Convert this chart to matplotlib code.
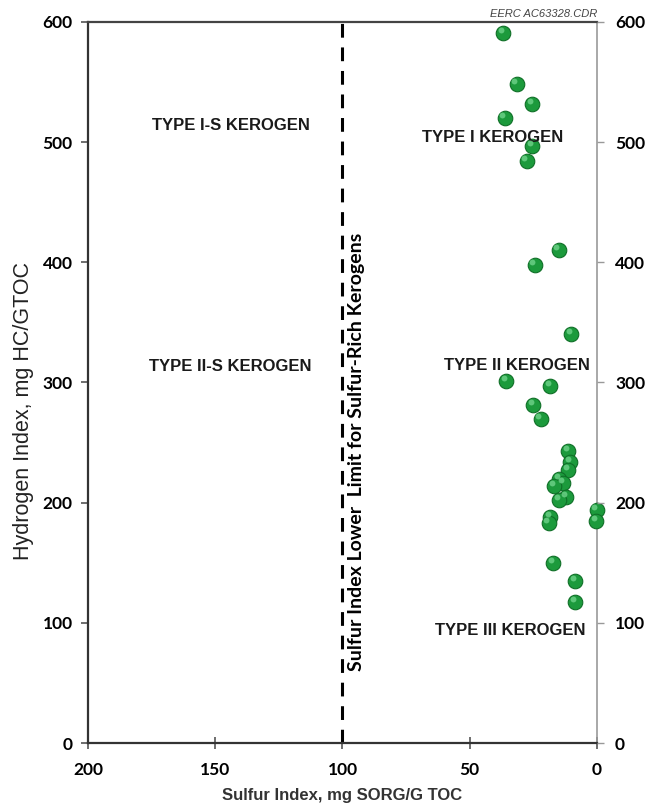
import matplotlib

matplotlib.use("Agg")
import matplotlib.pyplot as plt

# sulfur index (mg SORG/g TOC) and hydrogen index (mg HC/g TOC)
sulfur_index = [36.9, 31.6, 25.4, 36.3, 25.4, 27.6,
                15.1, 24.5, 10.2, 35.8, 18.3, 25.0, 22.1,
                11.3, 10.6, 11.3, 14.8, 13.2, 16.9, 12.2, 14.8,
                0.1, 0.4, 18.5, 19.0, 17.3, 8.6, 8.6]
hydrogen_index = [591, 548, 532, 520, 497, 484,
                  410, 398, 340, 301, 297, 281, 270,
                  243, 234, 227, 220, 216, 214, 205, 202,
                  194, 185, 188, 183, 150, 135, 117]

region_labels = ["TYPE I-S KEROGEN", "TYPE I KEROGEN", "TYPE II-S KEROGEN",
                 "TYPE II KEROGEN", "TYPE III KEROGEN"]
region_x = [144.0, 41.0, 144.0, 31.6, 34.2]
region_y = [514, 504, 313, 314, 94]

SULFUR_LIMIT = 100

fig = plt.figure(figsize=(6.45, 8.05), dpi=100)
ax = fig.add_axes([0.1364, 0.077, 0.7892, 0.8957])

ax.set_xlim(200, 0)
ax.set_ylim(0, 600)

# green "bead" markers with a small highlight
ax.scatter(sulfur_index, hydrogen_index, s=110, color="#1c9a3c",
           edgecolor="#0f6f27", linewidth=0.8, zorder=3, clip_on=False)
ax.scatter([x + 0.9 for x in sulfur_index], [y + 2.5 for y in hydrogen_index],
           s=18, color="#6fd38a", linewidth=0, alpha=0.8, zorder=4, clip_on=False)

# sulfur-rich boundary
ax.axvline(SULFUR_LIMIT, color="black", linewidth=2.2, linestyle=(0, (4.5, 3.2)),
           zorder=2)
ax.text(94.4, 242, "Sulfur Index Lower  Limit for Sulfur-Rich Kerogens",
        rotation=90, ha="center", va="center", fontsize=14, fontweight="bold",
        family="Lato")

for lab, x, y in zip(region_labels, region_x, region_y):
    ax.text(x, y, lab, ha="center", va="center", fontsize=12,
            fontweight="bold", color="#1a1a1a", family="Liberation Sans")

# axes styling
ax.spines["left"].set_color("#333333")
ax.spines["left"].set_linewidth(1.6)
ax.spines["bottom"].set_color("#333333")
ax.spines["bottom"].set_linewidth(1.6)
ax.spines["top"].set_color("#444444")
ax.spines["top"].set_linewidth(1.6)
ax.spines["right"].set_color("#999999")
ax.spines["right"].set_linewidth(1.2)

ax.set_xticks([200, 150, 100, 50, 0])
ax.set_yticks(range(0, 601, 100))
ax.tick_params(axis="x", direction="inout", length=8, width=1.2, color="#555555",
               pad=10)
ax.tick_params(axis="y", direction="out", length=5, width=1.2, color="#555555",
               pad=6)
for lbl in ax.get_xticklabels() + ax.get_yticklabels():
    lbl.set_fontsize(12.5)
    lbl.set_fontweight("bold")
    lbl.set_family("Lato")

ax2 = ax.twinx()
ax2.set_ylim(0, 600)
ax2.set_yticks(range(0, 601, 100))
ax2.tick_params(axis="y", direction="out", length=5, width=1.0, color="#999999",
                pad=8)
for sp in ax2.spines.values():
    sp.set_visible(False)
for lbl in ax2.get_yticklabels():
    lbl.set_fontsize(12.5)
    lbl.set_fontweight("bold")
    lbl.set_family("Lato")

ax.set_xlabel("Sulfur Index, mg SORG/G TOC", fontsize=12, fontweight="bold",
              color="#333333", family="Liberation Sans")
ax.xaxis.set_label_coords(0.5, -0.062)
ax.set_ylabel("Hydrogen Index, mg HC/GTOC", fontsize=15.5,
              color="#222222", family="Liberation Sans")
ax.yaxis.set_label_coords(-0.106, 0.46)

fig.text(0.926, 0.982, "EERC AC63328.CDR", ha="right", va="center",
         fontsize=8, style="italic", color="#444444", family="Liberation Sans")

fig.savefig("out.png", dpi=100)
plt.close(fig)
